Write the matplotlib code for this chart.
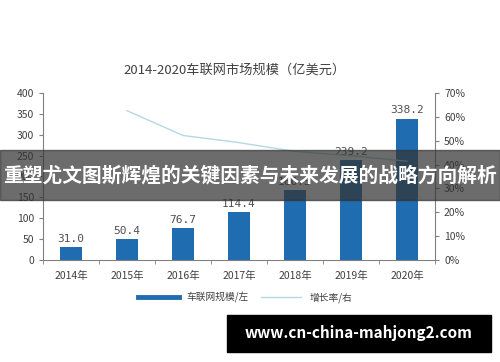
import numpy as np
import matplotlib.pyplot as plt
from matplotlib.lines import Line2D

plt.rcParams['font.family'] = ['Noto Sans CJK SC', 'DejaVu Sans']

years = ['2014年', '2015年', '2016年', '2017年', '2018年', '2019年', '2020年']
scale = [31.0, 50.4, 76.7, 114.4, 166.5, 239.2, 338.2]
# 增长率（%），2014年没有
growth_years = [1, 2, 3, 4, 5, 6]
growth = [62.6, 52.2, 49.2, 45.5, 43.7, 41.4]

fig = plt.figure(figsize=(5, 3.62), dpi=100)
ax = fig.add_axes([0.086, 0.282, 0.784, 0.461])

x = np.arange(len(years))
ax.bar(x, scale, width=0.39, color='#1f6db0', zorder=2)
for xi, v in zip(x, scale):
    ax.text(xi, v + 8, '%.1f' % v, ha='center', va='bottom', fontsize=8,
            color='#505050', family='DejaVu Sans Mono')

ax.set_xlim(-0.5, len(years) - 0.5)
ax.set_ylim(0, 400)
ax.set_yticks(np.arange(0, 401, 50))
ax.set_xticks(x)
ax.set_xticklabels(years)
ax.set_xticks(np.arange(-0.5, len(years), 1), minor=True)
ax.tick_params(axis='x', which='major', length=0, labelsize=7.5, colors='#404040', pad=8)
ax.tick_params(axis='x', which='minor', length=3, color='#808080')
ax.tick_params(axis='y', length=3, labelsize=7.5, colors='#404040', color='#808080')
for s in ['top', 'right']:
    ax.spines[s].set_visible(False)
for s in ['left', 'bottom']:
    ax.spines[s].set_color('#808080')

ax2 = ax.twinx()
ax2.plot(growth_years, growth, color='#b3d9e3', lw=1.0, zorder=3)
ax2.set_ylim(0, 70)
ax2.set_yticks(np.arange(0, 71, 10))
ax2.set_yticklabels(['%d%%' % v for v in range(0, 71, 10)])
ax2.tick_params(axis='y', length=3, labelsize=7.5, colors='#404040', color='#808080')
for s in ['top', 'left', 'bottom']:
    ax2.spines[s].set_visible(False)
ax2.spines['right'].set_color('#808080')

fig.text(0.47, 0.805, '2014-2020车联网市场规模（亿美元）', ha='center', va='center',
         fontsize=9.5, color='#404040')

handles = [Line2D([], [], color='#1f6db0', lw=3.5),
           Line2D([], [], color='#b3d9e3', lw=1.0)]
fig.legend(handles, ['车联网规模/左', '增长率/右'], loc='center', ncol=2,
           bbox_to_anchor=(0.49, 0.178), frameon=False, fontsize=7,
           labelcolor='#404040', handlelength=4.2, columnspacing=1.2)

# 横幅
fig.patches.append(plt.Rectangle((0, 0.448), 1, 0.138, transform=fig.transFigure,
                                 color='#333333', alpha=0.72, zorder=10))
fig.text(0.5, 0.515, '重塑尤文图斯辉煌的关键因素与未来发展的战略方向解析', ha='center',
         va='center', fontsize=14.2, color='white', fontweight='bold', zorder=11)

fig.patches.append(plt.Rectangle((0.454, 0.028), 0.528, 0.102, transform=fig.transFigure,
                                 color='black', zorder=10))
fig.text(0.718, 0.079, 'www.cn-china-mahjong2.com', ha='center', va='center',
         fontsize=11, color='white', fontweight='bold', zorder=11)

fig.savefig('out.png', dpi=100)
